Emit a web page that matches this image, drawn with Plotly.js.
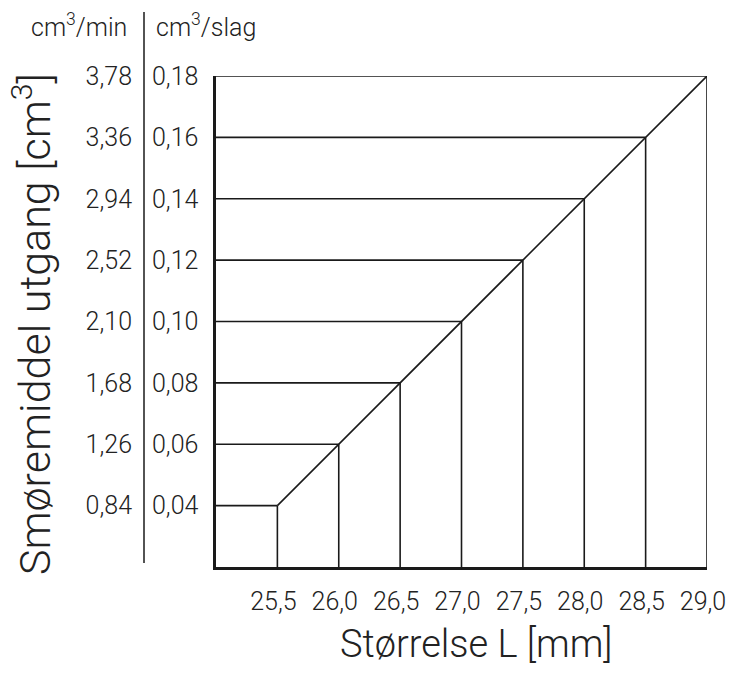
<!DOCTYPE html>
<html>
<head>
<meta charset="utf-8">
<script src="https://cdn.plot.ly/plotly-3.0.1.min.js"></script>
<style>html,body{margin:0;padding:0;background:#fff;}#chart{width:731px;height:673px;}</style>
</head>
<body>
<div id="chart"></div>
<script>
// Data
var sizes = [25.5, 26.0, 26.5, 27.0, 27.5, 28.0, 28.5, 29.0];          // Størrelse L [mm]
var outputStroke = [0.04, 0.06, 0.08, 0.10, 0.12, 0.14, 0.16, 0.18];  // cm3/slag
var outputMin = [0.84, 1.26, 1.68, 2.10, 2.52, 2.94, 3.36, 3.78];     // cm3/min
var xRange = [25.0, 29.0];
var yRange = [0.02, 0.18];
var y2Range = [0.42, 3.78];

function fmt(v, d) { return v.toFixed(d).replace('.', ','); }

// horizontal guide segments from left edge to diagonal, vertical from bottom to diagonal
var hx = [], hy = [], vx = [], vy = [];
for (var i = 0; i < sizes.length; i++) {
  hx.push(xRange[0], sizes[i], null);
  hy.push(outputStroke[i], outputStroke[i], null);
  vx.push(sizes[i], sizes[i], null);
  vy.push(yRange[0], outputStroke[i], null);
}

var lineColor = '#1a1a1a';
var textColor = '#222';
var W = 707, plotTop = 76, plotBottom = 567;
var plotH = plotBottom - plotTop;
function py(pix) { return (plotBottom - pix) / plotH; }

var traces = [
  {x: hx, y: hy, mode: 'lines', line: {color: lineColor, width: 1.6}, hoverinfo: 'skip', showlegend: false},
  {x: vx, y: vy, mode: 'lines', line: {color: lineColor, width: 1.6}, hoverinfo: 'skip', showlegend: false},
  {x: sizes, y: outputStroke, mode: 'lines', line: {color: lineColor, width: 1.6}, hoverinfo: 'skip', showlegend: false},
  {x: [sizes[0]], y: [outputMin[0]], yaxis: 'y2', mode: 'markers', marker: {opacity: 0}, hoverinfo: 'skip', showlegend: false},
  {x: [sizes[0]], y: [outputStroke[0]], yaxis: 'y3', mode: 'markers', marker: {opacity: 0}, hoverinfo: 'skip', showlegend: false}
];

var font = 'Roboto, "Open Sans", sans-serif';
var fw = 300;
var tickSize = 25;
var tf = {family: font, size: tickSize, color: textColor, weight: fw};

var layout = {
  width: 731, height: 673,
  margin: {l: 0, r: 24, t: plotTop, b: 673 - plotBottom},
  paper_bgcolor: '#fff', plot_bgcolor: '#fff',
  font: {family: font, color: textColor, size: tickSize, weight: fw},
  showlegend: false,
  xaxis: {
    domain: [216 / W, 1],
    range: xRange,
    showgrid: false, zeroline: false,
    showline: true, linecolor: lineColor, linewidth: 3,
    ticks: '', tickvals: sizes, ticktext: sizes.map(function (v) { return fmt(v, 1); }),
    tickfont: tf,
    ticklabelstandoff: 10,
    ticklabelshift: -4,
    fixedrange: true
  },
  yaxis: {
    range: yRange,
    showgrid: false, zeroline: false,
    showline: true, linecolor: lineColor, linewidth: 3,
    ticks: '', showticklabels: false,
    fixedrange: true
  },
  yaxis3: {
    overlaying: 'y', anchor: 'free', position: 151 / W, side: 'right',
    range: yRange,
    showgrid: false, zeroline: false, showline: false,
    ticks: '', tickvals: outputStroke, ticktext: outputStroke.map(function (v) { return fmt(v, 2); }),
    tickfont: tf,
    fixedrange: true
  },
  yaxis2: {
    overlaying: 'y', anchor: 'free', position: 132 / W, side: 'left',
    range: y2Range,
    showgrid: false, zeroline: false, showline: false,
    ticks: '', tickvals: outputMin, ticktext: outputMin.map(function (v) { return fmt(v, 2); }),
    tickfont: tf,
    fixedrange: true
  },
  shapes: [
    {type: 'line', xref: 'paper', yref: 'paper', x0: 144 / W, x1: 144 / W, y0: py(563), y1: py(12),
     line: {color: lineColor, width: 1.5}}
  ],
  annotations: [
    {xref: 'paper', yref: 'paper', x: 129 / W, y: py(26), xanchor: 'right', yanchor: 'middle',
     text: 'cm<sup>3</sup>/min', showarrow: false, font: {family: font, size: 25, color: textColor, weight: fw}},
    {xref: 'paper', yref: 'paper', x: 154 / W, y: py(26), xanchor: 'left', yanchor: 'middle',
     text: 'cm<sup>3</sup>/slag', showarrow: false, font: {family: font, size: 25, color: textColor, weight: fw}},
    {xref: 'paper', yref: 'paper', x: 32 / W, y: py(324), xanchor: 'center', yanchor: 'middle', textangle: -90,
     text: 'Smøremiddel utgang [cm<sup>3</sup>]', showarrow: false, font: {family: font, size: 43, color: textColor, weight: fw}},
    {xref: 'paper', yref: 'paper', x: 476 / W, y: py(644), xanchor: 'center', yanchor: 'middle',
     text: 'Størrelse L [mm]', showarrow: false, font: {family: font, size: 38, color: textColor, weight: fw}}
  ]
};

Plotly.newPlot('chart', traces, layout, {displayModeBar: false, staticPlot: true});
</script>
</body>
</html>
